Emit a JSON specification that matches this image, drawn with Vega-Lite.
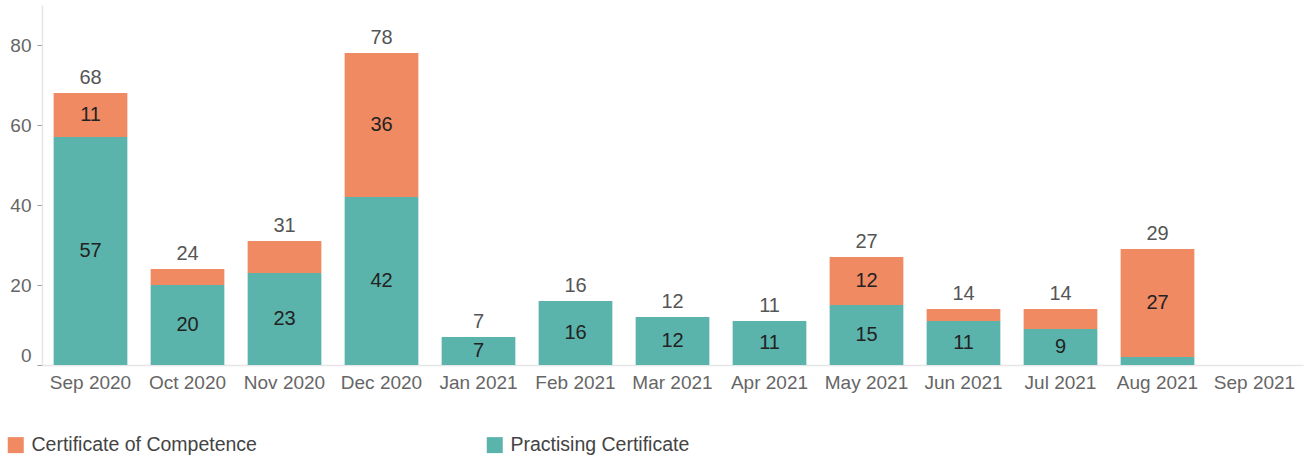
{
  "$schema": "https://vega.github.io/schema/vega-lite/v6.json",
  "width": 1261,
  "height": 360,
  "autosize": {"type": "none"},
  "padding": {"left": 42, "top": 5, "right": 1, "bottom": 94},
  "background": "white",
  "config": {
    "view": {"stroke": null},
    "font": "Liberation Sans"
  },
  "data": {
    "values": [
      {"month": "Sep 2020", "type": "Practising Certificate", "value": 57},
      {"month": "Sep 2020", "type": "Certificate of Competence", "value": 11},
      {"month": "Oct 2020", "type": "Practising Certificate", "value": 20},
      {"month": "Oct 2020", "type": "Certificate of Competence", "value": 4},
      {"month": "Nov 2020", "type": "Practising Certificate", "value": 23},
      {"month": "Nov 2020", "type": "Certificate of Competence", "value": 8},
      {"month": "Dec 2020", "type": "Practising Certificate", "value": 42},
      {"month": "Dec 2020", "type": "Certificate of Competence", "value": 36},
      {"month": "Jan 2021", "type": "Practising Certificate", "value": 7},
      {"month": "Jan 2021", "type": "Certificate of Competence", "value": 0},
      {"month": "Feb 2021", "type": "Practising Certificate", "value": 16},
      {"month": "Feb 2021", "type": "Certificate of Competence", "value": 0},
      {"month": "Mar 2021", "type": "Practising Certificate", "value": 12},
      {"month": "Mar 2021", "type": "Certificate of Competence", "value": 0},
      {"month": "Apr 2021", "type": "Practising Certificate", "value": 11},
      {"month": "Apr 2021", "type": "Certificate of Competence", "value": 0},
      {"month": "May 2021", "type": "Practising Certificate", "value": 15},
      {"month": "May 2021", "type": "Certificate of Competence", "value": 12},
      {"month": "Jun 2021", "type": "Practising Certificate", "value": 11},
      {"month": "Jun 2021", "type": "Certificate of Competence", "value": 3},
      {"month": "Jul 2021", "type": "Practising Certificate", "value": 9},
      {"month": "Jul 2021", "type": "Certificate of Competence", "value": 5},
      {"month": "Aug 2021", "type": "Practising Certificate", "value": 2},
      {"month": "Aug 2021", "type": "Certificate of Competence", "value": 27},
      {"month": "Sep 2021", "type": "Practising Certificate", "value": 0},
      {"month": "Sep 2021", "type": "Certificate of Competence", "value": 0}
    ]
  },
  "encoding": {
    "x": {
      "field": "month",
      "type": "nominal",
      "sort": null,
      "scale": {"paddingInner": 0.24, "paddingOuter": 0.12},
      "axis": {
        "title": null,
        "labelAngle": 0,
        "labelFontSize": 19,
        "labelColor": "#666666",
        "labelPadding": 8,
        "ticks": false,
        "domainColor": "#e6e6e6",
        "domainWidth": 1.5
      }
    }
  },
  "layer": [
    {
      "transform": [
        {"stack": "value", "groupby": ["month"], "sort": [{"field": "type", "order": "descending"}], "as": ["v0", "v1"]}
      ],
      "mark": {"type": "bar"},
      "encoding": {
        "y": {
          "field": "v0",
          "type": "quantitative",
          "scale": {"domain": [0, 90]},
          "axis": {
            "title": null,
            "values": [0, 20, 40, 60, 80],
            "grid": false,
            "labelFontSize": 19,
            "labelColor": "#666666",
            "labelFlush": true,
            "labelPadding": 6,
            "tickSize": 5,
            "tickColor": "#999999",
            "domainColor": "#e6e6e6",
            "domainWidth": 1.5
          }
        },
        "y2": {"field": "v1"},
        "color": {
          "field": "type",
          "type": "nominal",
          "scale": {
            "domain": ["Certificate of Competence", "Practising Certificate"],
            "range": ["#ef8a62", "#5ab4ac"]
          },
          "legend": {
            "title": null,
            "orient": "none",
            "direction": "horizontal",
            "legendX": -36,
            "legendY": 430,
            "symbolType": "square",
            "symbolSize": 256,
            "symbolStrokeWidth": 0,
            "labelFontSize": 19.5,
            "labelColor": "#444444",
            "labelOffset": 6,
            "labelLimit": 400,
            "columnPadding": 228
          }
        }
      }
    },
    {
      "transform": [
        {"stack": "value", "groupby": ["month"], "sort": [{"field": "type", "order": "descending"}], "as": ["v0", "v1"]},
        {"filter": "datum.value >= 9 || (datum.month == 'Jan 2021' && datum.value > 0)"},
        {"calculate": "(datum.v0 + datum.v1) / 2", "as": "mid"}
      ],
      "mark": {"type": "text", "fontSize": 20, "color": "#222222", "baseline": "middle"},
      "encoding": {
        "y": {"field": "mid", "type": "quantitative"},
        "text": {"field": "value", "type": "quantitative"}
      }
    },
    {
      "transform": [
        {"aggregate": [{"op": "sum", "field": "value", "as": "total"}], "groupby": ["month"]},
        {"filter": "datum.total > 0"}
      ],
      "mark": {"type": "text", "fontSize": 20, "color": "#555555", "baseline": "bottom", "dy": -5},
      "encoding": {
        "y": {"field": "total", "type": "quantitative"},
        "text": {"field": "total", "type": "quantitative"}
      }
    }
  ]
}
